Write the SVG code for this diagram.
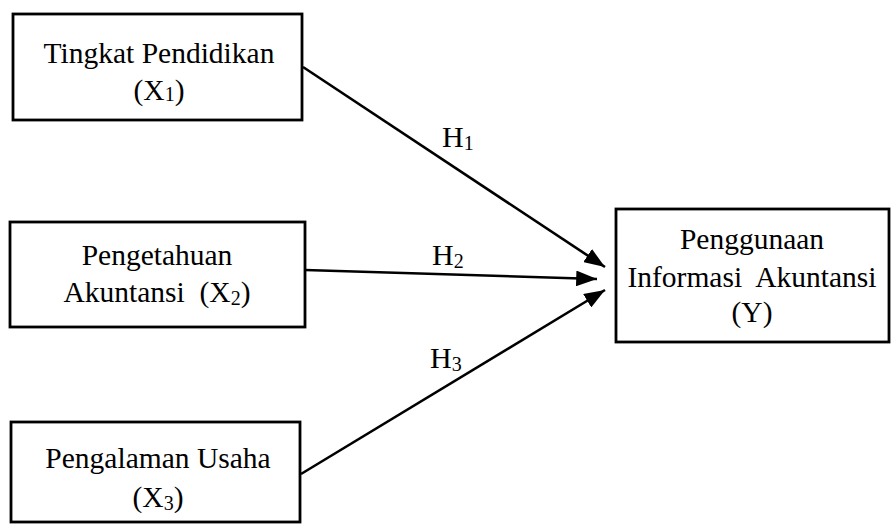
<svg xmlns="http://www.w3.org/2000/svg" width="893" height="527" viewBox="0 0 893 527">
<defs>
<style>
.box{fill:#fff;stroke:#000;stroke-width:2.8}
.t{font-family:"Liberation Serif","Times New Roman",serif;font-size:29.5px;fill:#000;text-anchor:middle}
.s{font-size:20px}
.h{font-family:"Liberation Serif","Times New Roman",serif;font-size:30px;fill:#000}
.c{stroke:#000;stroke-width:2.6;fill:none}
</style>
<marker id="ah" markerWidth="8" markerHeight="6" refX="8" refY="3" orient="auto" markerUnits="strokeWidth">
<path d="M0,0 L8,3 L0,6 Z" fill="#000"/>
</marker>
</defs>
<rect width="893" height="527" fill="#fff"/>
<g id="x1">
<rect class="box" x="13" y="14" width="289" height="106"/>
<text class="t" x="159" y="63">Tingkat Pendidikan</text>
<text class="t" x="159" y="100">(X<tspan class="s" dy="1">1</tspan><tspan dy="-1">)</tspan></text>
</g>
<g id="x2">
<rect class="box" x="10" y="222" width="295" height="105"/>
<text class="t" x="157" y="265">Pengetahuan</text>
<text class="t" x="157" y="302" xml:space="preserve">Akuntansi  (X<tspan class="s" dy="3">2</tspan><tspan dy="-3">)</tspan></text>
</g>
<g id="x3">
<rect class="box" x="11" y="422" width="289" height="100"/>
<text class="t" x="158" y="468">Pengalaman Usaha</text>
<text class="t" x="158" y="507">(X<tspan class="s" dy="3">3</tspan><tspan dy="-3">)</tspan></text>
</g>
<g id="y">
<rect class="box" x="616" y="209" width="273" height="133"/>
<text class="t" x="752" y="249">Penggunaan</text>
<text class="t" x="752" y="287" xml:space="preserve">Informasi  Akuntansi</text>
<text class="t" x="752" y="322">(Y)</text>
</g>
<g id="connectors">
<line class="c" x1="303" y1="67" x2="605" y2="267" marker-end="url(#ah)"/>
<line class="c" x1="305" y1="270" x2="597" y2="279" marker-end="url(#ah)"/>
<line class="c" x1="301" y1="474" x2="605" y2="290" marker-end="url(#ah)"/>
<text class="h" x="442" y="147">H<tspan class="s" dy="3">1</tspan></text>
<text class="h" x="432" y="265">H<tspan class="s" dy="3">2</tspan></text>
<text class="h" x="430" y="368">H<tspan class="s" dy="3">3</tspan></text>
</g>
</svg>
